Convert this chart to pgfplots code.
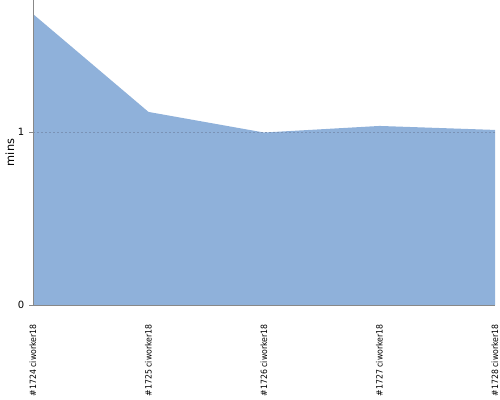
\documentclass[border=0pt]{standalone}
\usepackage{fontspec}
\setmainfont{DejaVu Sans}
\newfontfamily\condfont{DejaVu Sans Condensed}
\usepackage{pgfplots}
\pgfplotsset{compat=1.18}
\definecolor{areafill}{HTML}{8FB1DA}
\definecolor{axgray}{HTML}{888888}
\definecolor{gridc}{HTML}{7A92B5}
\begin{document}
\begin{tikzpicture}[x=0.75pt,y=0.75pt]
\begin{axis}[
  scale only axis,
  width=346.5pt, height=228.75pt,
  xmin=0, xmax=4, ymin=0, ymax=1.763,
  axis x line*=bottom, axis y line*=left,
  axis line style={-, draw=axgray, line width=0.6pt},
  axis on top,
  xtick={0,1,2,3,4},
  xticklabels={\#1724 ciworker18,\#1725 ciworker18,\#1726 ciworker18,\#1727 ciworker18,\#1728 ciworker18},
  x tick label style={rotate=90, anchor=east, font=\condfont\fontsize{6.5}{7}\selectfont, yshift=0pt, xshift=-8pt},
  major x tick style={draw=none},
  ytick={0,1},
  y tick label style={font=\fontsize{7.5}{9}\selectfont},
  /pgf/number format/assume math mode=true,
  tick align=outside,
  major tick length=3pt,
  major y tick style={draw=axgray, line width=0.6pt},
  ymajorgrids,
  grid style={dash pattern=on 1.5pt off 1.5pt, draw=gridc, line width=0.6pt},
  ylabel={mins},
  ylabel style={at={(axis description cs:-0.0498,0.5)}, anchor=center, font=\fontsize{8.5}{10}\selectfont},
  clip=false,
]
\addplot[fill=areafill, draw=none] coordinates {(0,1.682) (1,1.116) (2,0.997) (3,1.035) (4,1.012)} \closedcycle;
\end{axis}
\pgfresetboundingbox
\path[use as bounding box] (current axis.south west) ++(-24.75pt,-71.25pt) rectangle ([xshift=3.75pt]current axis.north east);
\end{tikzpicture}
\end{document}
